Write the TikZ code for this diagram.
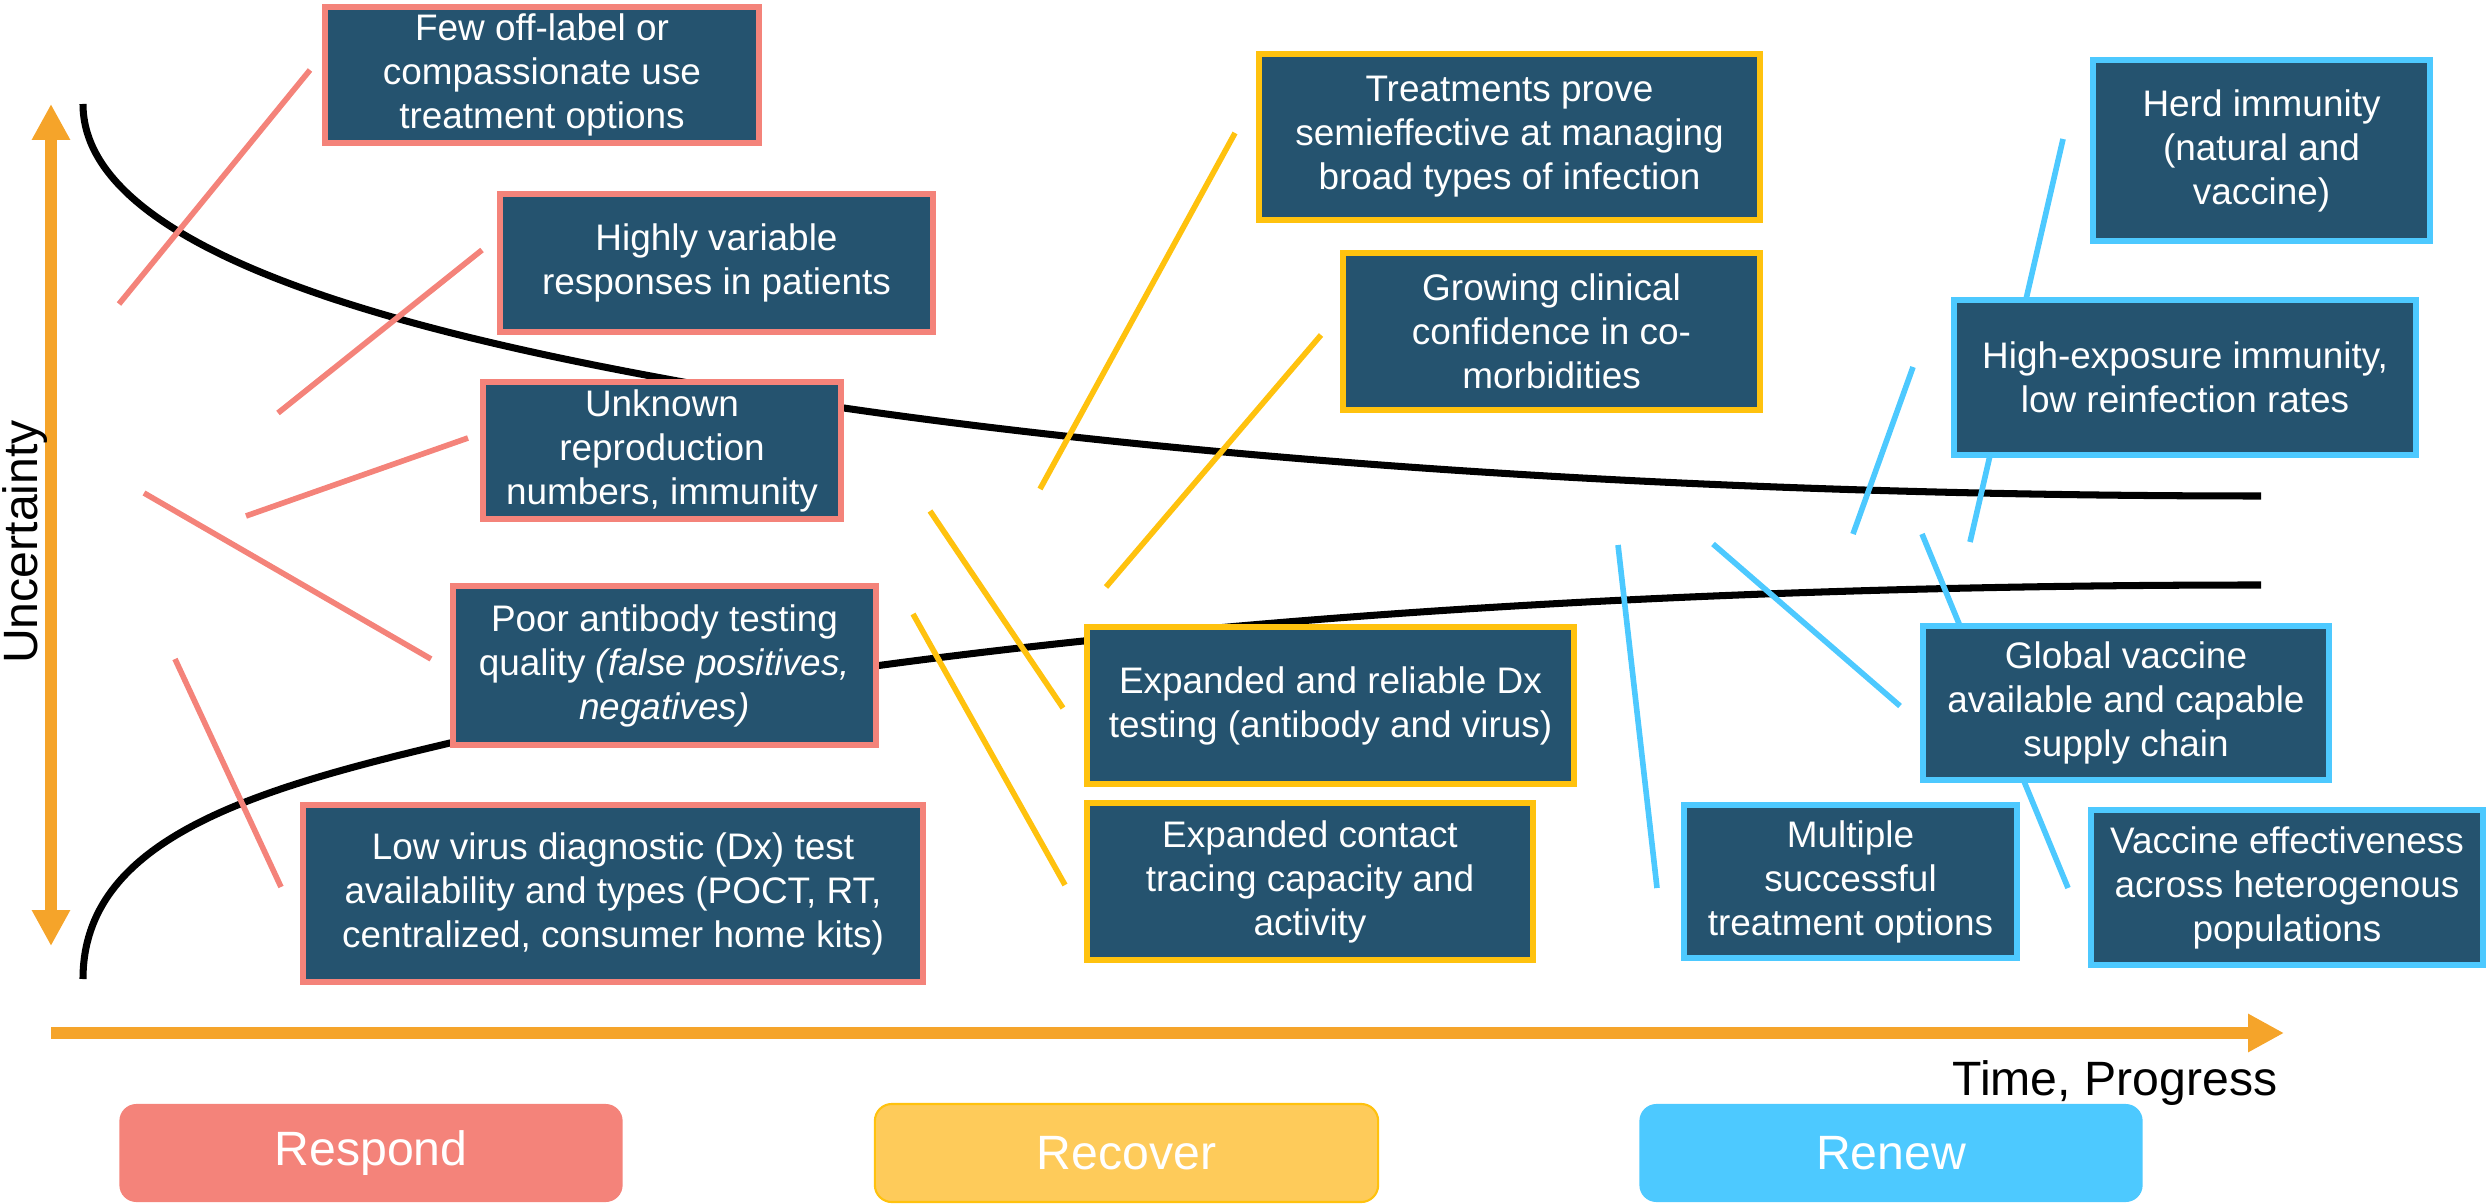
\documentclass[tikz,border=0pt]{standalone}
\usepackage{fontspec}
\setmainfont{Liberation Sans}
\usetikzlibrary{arrows.meta}
\definecolor{boxblue}{HTML}{25536F}
\definecolor{respred}{HTML}{F4837A}
\definecolor{recyel}{HTML}{FFC20E}
\definecolor{recfill}{HTML}{FECB5A}
\definecolor{renblue}{HTML}{4DC9FF}
\definecolor{axisorange}{HTML}{F5A42A}

\begin{document}
\begin{tikzpicture}[x=0.01cm,y=-0.01cm,
  item/.style={fill=boxblue,text=white,line width=1.7pt,align=center,inner sep=0pt,
    font=\fontsize{10.5}{12.5}\selectfont},
  respbox/.style={item,draw=respred},
  recbox/.style={item,draw=recyel},
  renbox/.style={item,draw=renblue},
  phase/.style={rounded corners=0.17cm,minimum width=5.03cm,minimum height=0.98cm,
    text=white,inner sep=0pt,font=\fontsize{13.7}{16}\selectfont},
  stick/.style={line width=1.6pt},
  curve/.style={line width=2pt,black},
  axis/.style={draw=axisorange,line width=3.4pt},
  tip/.tip={Triangle[width=10.2pt,length=10.2pt]}]
\useasboundingbox (0,0) rectangle (2489,1204);

% curves
\draw[curve] (83,104) .. controls (83,250) and (400,330) .. (667,379)
  .. controls (950,432) and (1500,496) .. (2261,496);
\draw[curve] (83,979) .. controls (83,840) and (250,790) .. (450,743)
  .. controls (780,662) and (1400,585) .. (2261,585);

% sticks
\foreach \xa/\ya/\xb/\yb in {310/70/119/304, 482/250/278/413, 468/438/246/516,
  144/493/431/659, 175/659/281/887}
  \draw[stick,respred] (\xa,\ya) -- (\xb,\yb);
\foreach \xa/\ya/\xb/\yb in {1235/133/1040/489, 1321/335/1106/587,
  930/511/1063/708, 913/614/1065/885}
  \draw[stick,recyel] (\xa,\ya) -- (\xb,\yb);
\foreach \xa/\ya/\xb/\yb in {2063/139/1970/542, 1913/367/1853/534,
  1618/545/1657/888, 1713/544/1900/706, 1922/534/2068/888}
  \draw[stick,renblue] (\xa,\ya) -- (\xb,\yb);

% axes
\draw[axis,tip-tip] (51,104) -- (51,946);
\draw[axis,-tip] (51,1033) -- (2284,1033);
\node[rotate=90,inner sep=0pt,font=\fontsize{13.7}{16}\selectfont] (uncert) at (25,542) {Uncertainty};
\node[anchor=base east,inner sep=0pt,font=\fontsize{13.7}{16}\selectfont] (timelabel) at (2278,1095) {Time, Progress};

% respond
\node[respbox,minimum width=4.34cm,minimum height=1.36cm] (few) at (542,75)
  {Few off-label or\\compassionate use\\treatment options};
\node[respbox,minimum width=4.33cm,minimum height=1.38cm] (variable) at (716.5,263)
  {Highly variable\\responses in patients};
\node[respbox,minimum width=3.58cm,minimum height=1.37cm] (reproduction) at (662,450.5)
  {Unknown\\reproduction\\numbers, immunity};
\node[respbox,minimum width=4.23cm,minimum height=1.59cm] (antibody) at (664.5,665.5)
  {Poor antibody testing\\quality \textit{(false positives,}\\\textit{negatives)}};
\node[respbox,minimum width=6.20cm,minimum height=1.77cm] (diagnostic) at (613,893.5)
  {Low virus diagnostic (Dx) test\\availability and types (POCT, RT,\\centralized, consumer home kits)};

% recover
\node[recbox,minimum width=5.01cm,minimum height=1.66cm] (treatments) at (1509.5,137)
  {Treatments prove\\semieffective at managing\\broad types of infection};
\node[recbox,minimum width=4.17cm,minimum height=1.57cm] (comorbid) at (1551.5,331.5)
  {Growing clinical\\confidence in co-\\morbidities};
\node[recbox,minimum width=4.87cm,minimum height=1.57cm] (dxtesting) at (1330.5,705.5)
  {Expanded and reliable Dx\\testing (antibody and virus)};
\node[recbox,minimum width=4.46cm,minimum height=1.57cm] (tracing) at (1310,881.5)
  {Expanded contact\\tracing capacity and\\activity};

% renew
\node[renbox,minimum width=3.37cm,minimum height=1.81cm] (herd) at (2261.5,150.5)
  {Herd immunity\\(natural and\\vaccine)};
\node[renbox,minimum width=4.62cm,minimum height=1.55cm] (exposure) at (2185,377.5)
  {High-exposure immunity,\\low reinfection rates};
\node[renbox,minimum width=4.06cm,minimum height=1.54cm] (supply) at (2126,703)
  {Global vaccine\\available and capable\\supply chain};
\node[renbox,minimum width=3.33cm,minimum height=1.53cm] (multiple) at (1850.5,881.5)
  {Multiple\\successful\\treatment options};
\node[renbox,minimum width=3.92cm,minimum height=1.55cm] (effectiveness) at (2287,887.5)
  {Vaccine effectiveness\\across heterogenous\\populations};

% phases
\node[phase,fill=respred] (respond) at (371,1153) {Respond};
\node[phase,fill=recfill,draw=recyel,line width=0.6pt] (recover) at (1126.5,1153) {Recover};
\node[phase,fill=renblue] (renew) at (1891,1153) {Renew};
\end{tikzpicture}
\end{document}
